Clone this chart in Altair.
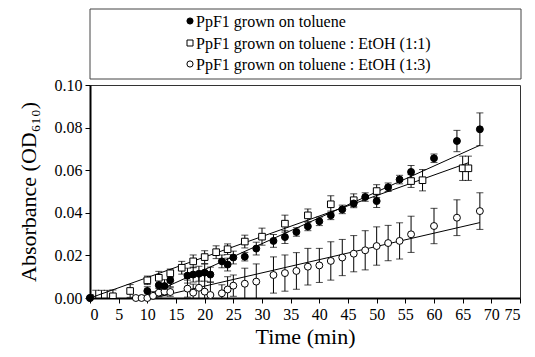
import altair as alt
import pandas as pd

FONT = "Liberation Serif"

# --- data ---
tol_t = [0, 10, 12, 13, 14, 17, 18, 19, 20, 21, 23, 24, 25, 27, 29, 32, 34, 36, 38, 40,
         42, 44, 46, 48, 50, 52, 54, 56, 60, 64, 68]
tol_v = [0.0, 0.0033, 0.006, 0.0056, 0.0083, 0.0105, 0.011, 0.0114, 0.0119, 0.011,
         0.0172, 0.0157, 0.019, 0.0194, 0.0232, 0.0268, 0.0286, 0.031, 0.0336, 0.036,
         0.0388, 0.0416, 0.0444, 0.0474, 0.0455, 0.052, 0.0556, 0.0592, 0.0656, 0.0737, 0.0792]
tol_e = [0.0, 0.002, 0.003, 0.003, 0.003, 0.0035, 0.0035, 0.0035, 0.004, 0.0035,
         0.003, 0.003, 0.003, 0.002, 0.003, 0.003, 0.003, 0.002, 0.002, 0.002,
         0.002, 0.002, 0.002, 0.002, 0.003, 0.002, 0.002, 0.003, 0.002, 0.005, 0.0077]

sq_t = [0, 1, 2, 3, 4, 7, 10, 12, 14, 16, 18, 20, 22, 24, 27, 30, 34, 38, 42, 46,
        50, 56, 58, 65, 66]
sq_v = [0.0, -0.003, -0.003, -0.003, 0.0008, 0.0033, 0.0083, 0.0095, 0.0116, 0.0142,
        0.0172, 0.0192, 0.0215, 0.0229, 0.0265, 0.0288, 0.0349, 0.0388, 0.044, 0.0459,
        0.0502, 0.0549, 0.0553, 0.0609, 0.0609]
sq_e = [0.0, 0.0066, 0.0066, 0.0066, 0.003, 0.003, 0.002, 0.003, 0.002, 0.003,
        0.003, 0.003, 0.003, 0.0025, 0.003, 0.004, 0.004, 0.003, 0.004, 0.003,
        0.003, 0.003, 0.005, 0.0057, 0.0057]

op_t = [0, 8, 9, 10, 11, 12, 13, 14, 17, 18, 19, 20, 21, 23, 24, 25, 27, 29, 32, 34,
        36, 38, 40, 42, 44, 46, 48, 50, 52, 54, 56, 60, 64, 68]
op_v = [0.0, 0.0, 0.0, 0.0, 0.001, 0.0025, 0.003, 0.0028, 0.0044, 0.0025,
        0.0048, 0.003, 0.0014, 0.0022, 0.004, 0.0058, 0.0067, 0.0077, 0.0108, 0.0117,
        0.0127, 0.0147, 0.0153, 0.0174, 0.019, 0.0208, 0.0224, 0.0244, 0.0258, 0.0268,
        0.0299, 0.0338, 0.0377, 0.0408]
op_e = [0.0, 0.001, 0.001, 0.001, 0.002, 0.002, 0.002, 0.002, 0.004, 0.004,
        0.006, 0.008, 0.006, 0.004, 0.006, 0.005, 0.0073, 0.0083, 0.0085, 0.0085,
        0.0086, 0.0086, 0.008, 0.009, 0.0085, 0.0085, 0.0092, 0.009, 0.0083, 0.0085,
        0.0085, 0.0083, 0.0084, 0.0086]

fit_series = ["tol", "tol", "sq", "sq", "op", "op"]
fit_t = [9, 68, 0, 66, 11, 68]
fit_v = [0.0, 0.0717, 0.0, 0.0635, 0.0, 0.0354]

legend_labels = ["PpF1 grown on toluene",
                 "PpF1 grown on toluene : EtOH (1:1)",
                 "PpF1 grown on toluene : EtOH (1:3)"]

x_ticks = list(range(0, 80, 5))
y_ticks = [0.0, 0.02, 0.04, 0.06, 0.08, 0.10]

# --- tables ---
rows = []
for name, ts, vs, es in [("tol", tol_t, tol_v, tol_e), ("sq", sq_t, sq_v, sq_e),
                         ("op", op_t, op_v, op_e)]:
    for t, v, e in zip(ts, vs, es):
        rows.append(dict(series=name, t=t, v=v, lo=v - e, hi=v + e))
df = pd.DataFrame(rows)
fit_df = pd.DataFrame({"series": fit_series, "t": fit_t, "v": fit_v})

X_AXIS = alt.Axis(values=x_ticks, title="Time (min)", labelFontSize=16, titleFontSize=22,
                  titlePadding=4, labelPadding=3, labelFont=FONT, titleFont=FONT,
                  titleFontWeight="normal", labelColor="black", titleColor="black")
Y_AXIS = alt.Axis(values=y_ticks, format=".2f", title="Absorbance (OD₆₁₀)",
                  labelFontSize=16, titleFontSize=22, titlePadding=14, labelPadding=3,
                  labelFont=FONT, titleFont=FONT, titleFontWeight="normal",
                  labelColor="black", titleColor="black")


def xe(field="t"):
    return alt.X(f"{field}:Q", scale=alt.Scale(domain=[0, 75], nice=False, zero=False),
                 axis=X_AXIS)


def ye(field):
    return alt.Y(f"{field}:Q", scale=alt.Scale(domain=[0, 0.1], nice=False, zero=False),
                 axis=Y_AXIS)


base = alt.Chart(df)

fits = alt.Chart(fit_df).mark_line(color="black", strokeWidth=1).encode(
    x=xe(), y=ye("v"), detail="series:N")

bars = base.mark_rule(color="black", strokeWidth=1, clip=True).encode(
    x=xe(), y=ye("lo"), y2="hi:Q")
caps_hi = base.mark_tick(orient="horizontal", size=7, thickness=1, color="black",
                         clip=True).encode(x=xe(), y=ye("hi"))
caps_lo = base.mark_tick(orient="horizontal", size=7, thickness=1, color="black",
                         clip=True).encode(x=xe(), y=ye("lo"))

pts_sq = base.transform_filter(alt.datum.series == "sq").mark_point(
    shape="square", filled=True, fill="white", stroke="black", strokeWidth=1,
    size=44, opacity=1, clip=True).encode(x=xe(), y=ye("v"))
pts_op = base.transform_filter(alt.datum.series == "op").mark_point(
    shape="circle", filled=True, fill="white", stroke="black", strokeWidth=1,
    size=48, opacity=1).encode(x=xe(), y=ye("v"))
pts_tol = base.transform_filter(alt.datum.series == "tol").mark_point(
    shape="circle", filled=True, fill="black", stroke="black", strokeWidth=1,
    size=48, opacity=1).encode(x=xe(), y=ye("v"))

# --- legend box above the plot ---
dummy = pd.DataFrame({"a": [0]})
box = alt.Chart(dummy).mark_rect(fill="white", stroke="#444", strokeWidth=1).encode(
    x=alt.value(0), x2=alt.value(431), y=alt.value(-76), y2=alt.value(-6))

legend_layers = [box]
styles = [dict(shape="circle", fill="black", size=38),
          dict(shape="square", fill="white", size=36),
          dict(shape="circle", fill="white", size=38)]
row_y = [-64, -42, -21]
for lab, st, yy in zip(legend_labels, styles, row_y):
    legend_layers.append(
        alt.Chart(dummy).mark_point(shape=st["shape"], filled=True, fill=st["fill"],
                                    stroke="black", strokeWidth=1, size=st["size"],
                                    opacity=1).encode(x=alt.value(100), y=alt.value(yy)))
    legend_layers.append(
        alt.Chart(dummy).mark_text(align="left", baseline="middle", font=FONT,
                                   fontSize=16, color="black").encode(
            x=alt.value(106), y=alt.value(yy + 1), text=alt.value(lab)))

chart = alt.layer(fits, bars, caps_hi, caps_lo, pts_sq, pts_op, pts_tol,
                  *legend_layers).properties(
    width=430, height=213,
    padding={"left": 9, "top": 0, "right": 4, "bottom": 4},
).configure_view(stroke="#333", strokeWidth=1).configure_axis(
    grid=False, domainColor="black", domainWidth=2, tickColor="black", tickSize=5,
    tickWidth=1,
)

chart.save("out.html", embed_options={"renderer": "svg", "actions": False})
